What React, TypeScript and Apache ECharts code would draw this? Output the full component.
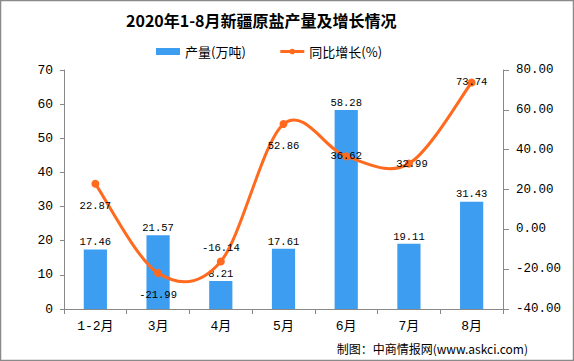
import React, { useEffect, useRef } from 'react';
import * as echarts from 'echarts';

const categories = ['1-2月', '3月', '4月', '5月', '6月', '7月', '8月'];
const output = [17.46, 21.57, 8.21, 17.61, 58.28, 19.11, 31.43];
const growth = [22.87, -21.99, -16.14, 52.86, 36.62, 32.99, 73.74];
const leftTicks = [0, 10, 20, 30, 40, 50, 60, 70];
const rightTicks = [-40, -20, 0, 20, 40, 60, 80];
const growthLabelPlacement = ['bottom', 'bottom', 'top', 'bottom', 'inside', 'inside', 'inside'];

const MONO = '"Liberation Mono", "Noto Sans CJK SC", monospace';
const CJK = '"Noto Sans CJK SC", sans-serif';
const BAR = '#3D9DF1';
const LINE = '#FF6A1F';
const AXIS = '#888888';

// Catmull-Rom style smoothing (like spreadsheet smoothed lines), in pixel space
function smoothPath(pts: number[][]): string {
  const n = pts.length;
  let d = `M${pts[0][0]},${pts[0][1]}`;
  for (let i = 0; i < n - 1; i++) {
    const p0 = pts[Math.max(i - 1, 0)];
    const p1 = pts[i];
    const p2 = pts[i + 1];
    const p3 = pts[Math.min(i + 2, n - 1)];
    const c1x = p1[0] + (p2[0] - p0[0]) / 6;
    const c1y = p1[1] + (p2[1] - p0[1]) / 6;
    const c2x = p2[0] - (p3[0] - p1[0]) / 6;
    const c2y = p2[1] - (p3[1] - p1[1]) / 6;
    d += ` C${c1x},${c1y} ${c2x},${c2y} ${p2[0]},${p2[1]}`;
  }
  return d;
}

export default function App() {
  const ref = useRef<HTMLDivElement>(null);
  useEffect(() => {
    document.body.style.margin = '0';
    const chart = echarts.init(ref.current!, undefined, { renderer: 'svg' });
    const lmin = leftTicks[0];
    const lmax = leftTicks[leftTicks.length - 1];
    const rmin = rightTicks[0];
    const rmax = rightTicks[rightTicks.length - 1];
    const option: any = {
      animation: false,
      backgroundColor: '#ffffff',
      title: {
        text: '2020年1-8月新疆原盐产量及增长情况',
        left: 126,
        top: 12,
        padding: 0,
        textStyle: { fontFamily: CJK, fontSize: 16, fontWeight: 'bold', color: '#000' },
      },
      legend: {
        left: 156,
        top: 45,
        padding: 0,
        itemWidth: 24,
        itemHeight: 7,
        itemGap: 33,
        textStyle: { fontFamily: CJK, fontSize: 13, color: '#000' },
        data: [
          { name: '产量(万吨)', icon: 'rect' },
          { name: '同比增长(%)', lineStyle: { color: LINE, width: 3, opacity: 1 } },
        ],
      },
      grid: { left: 64, right: 71, top: 70, bottom: 52 },
      xAxis: {
        type: 'category',
        data: categories,
        axisLine: { lineStyle: { color: AXIS } },
        axisTick: { show: true, length: 5, lineStyle: { color: AXIS } },
        axisLabel: { color: '#000', fontSize: 13, fontFamily: MONO, margin: 11 },
      },
      yAxis: [
        {
          type: 'value',
          min: lmin,
          max: lmax,
          interval: leftTicks[1] - leftTicks[0],
          axisLine: { show: true, lineStyle: { color: AXIS } },
          axisTick: { show: true, length: 4, lineStyle: { color: AXIS } },
          splitLine: { show: false },
          axisLabel: { color: '#000', fontSize: 13, fontFamily: MONO, margin: 11 },
        },
        {
          type: 'value',
          position: 'right',
          min: rmin,
          max: rmax,
          interval: rightTicks[1] - rightTicks[0],
          axisLine: { show: true, lineStyle: { color: AXIS } },
          axisTick: { show: true, length: 6, lineStyle: { color: AXIS } },
          splitLine: { show: false },
          axisLabel: {
            color: '#000',
            fontSize: 12.5,
            fontFamily: MONO,
            margin: 13,
            formatter: (v: number) => v.toFixed(2),
          },
        },
      ],
      series: [
        {
          name: '产量(万吨)',
          type: 'bar',
          data: output,
          barWidth: '37%',
          itemStyle: { color: BAR },
          label: { show: true, position: 'top', distance: 2, color: '#000', fontSize: 10.5, fontFamily: MONO },
        },
        {
          name: 'growthCurve',
          type: 'custom',
          yAxisIndex: 1,
          silent: true,
          z: 3,
          data: growth.map((v, i) => [i, v]),
          renderItem: (params: any, api: any) => {
            if (params.dataIndex !== 0) return null;
            const pts = growth.map((v, i) => api.coord([i, v]));
            return {
              type: 'path',
              shape: { pathData: smoothPath(pts) },
              style: { fill: 'none', stroke: LINE, lineWidth: 3 },
            };
          },
        },
        {
          name: '同比增长(%)',
          type: 'line',
          yAxisIndex: 1,
          symbol: 'circle',
          symbolSize: 8,
          lineStyle: { color: LINE, width: 3, opacity: 0 },
          itemStyle: { color: LINE },
          z: 4,
          data: growth.map((v, i) => {
            const pos = growthLabelPlacement[i];
            return {
              value: v,
              label: {
                position: pos,
                distance: pos === 'bottom' ? 13 : 4,
                offset: i === 5 ? [3, 0] : [0, 0],
              },
            };
          }),
          label: { show: true, color: '#000', fontSize: 10.5, fontFamily: MONO },
        },
      ],
      graphic: [
        {
          type: 'text',
          x: 528,
          y: 348,
          style: {
            text: '制图：中商情报网(www.askci.com)',
            font: '12px "Noto Sans CJK SC"',
            fill: '#000',
            textAlign: 'right',
            textVerticalAlign: 'middle',
          },
        },
        {
          type: 'rect',
          silent: true,
          shape: { x: 0.5, y: 0.5, width: 573, height: 360 },
          style: { fill: 'none', stroke: '#8a8a8a', lineWidth: 1.5 },
        },
      ],
    };
    chart.setOption(option);
    return () => chart.dispose();
  }, []);
  return <div ref={ref} style={{ position: 'fixed', left: 0, top: 0, width: 574, height: 361 }} />;
}
